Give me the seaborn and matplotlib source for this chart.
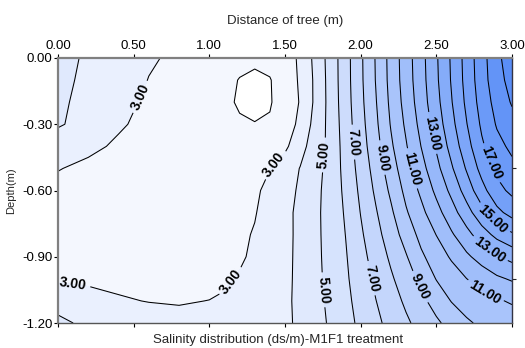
import numpy as np
import matplotlib
matplotlib.use("Agg")
import matplotlib.pyplot as plt
import seaborn as sns
from matplotlib import font_manager

# ---------------- data ----------------
distance = [0.0, 0.2, 0.4, 0.6, 0.8, 1.0, 1.1, 1.2, 1.3, 1.4, 1.5, 1.6, 1.7,
            1.8, 1.9, 2.0, 2.1, 2.2, 2.3, 2.4, 2.5, 2.6, 2.7, 2.8, 2.9, 3.0]
depth = [0.0, -0.1, -0.2, -0.3, -0.4, -0.5, -0.6, -0.7, -0.8, -0.9, -1.0, -1.1, -1.2]

sal_d000 = [4.30, 3.87, 3.48, 3.09, 2.85, 2.55, 2.40, 2.22, 2.15, 2.30, 2.60, 3.14, 4.27, 5.40, 6.61, 7.83, 9.07, 10.35, 11.53, 12.67, 13.88, 15.13, 16.38, 17.63, 18.70, 19.70]
sal_d010 = [4.22, 3.82, 3.41, 2.98, 2.78, 2.45, 2.20, 1.97, 1.85, 1.95, 2.50, 3.11, 4.18, 5.38, 6.60, 7.81, 9.04, 10.32, 11.49, 12.62, 13.83, 15.08, 16.33, 17.57, 18.61, 19.38]
sal_d020 = [4.17, 3.72, 3.27, 2.85, 2.70, 2.40, 2.18, 1.90, 1.85, 1.92, 2.50, 3.05, 4.18, 5.35, 6.56, 7.75, 8.94, 10.22, 11.37, 12.51, 13.69, 14.94, 16.20, 17.40, 18.37, 19.09]
sal_d030 = [4.12, 3.59, 3.08, 2.82, 2.65, 2.40, 2.25, 2.10, 2.02, 2.10, 2.55, 3.20, 4.35, 5.31, 6.49, 7.65, 8.81, 10.07, 11.17, 12.30, 13.45, 14.70, 15.96, 17.16, 18.09, 18.65]
sal_d040 = [3.35, 3.15, 2.90, 2.75, 2.60, 2.45, 2.35, 2.30, 2.30, 2.50, 2.80, 3.67, 4.46, 5.28, 6.41, 7.53, 8.63, 9.84, 10.92, 12.02, 13.11, 14.35, 15.61, 16.84, 17.69, 18.22]
sal_d050 = [3.03, 2.85, 2.70, 2.60, 2.50, 2.45, 2.45, 2.50, 2.70, 2.98, 3.51, 4.03, 4.64, 5.36, 6.31, 7.37, 8.40, 9.54, 10.61, 11.65, 12.70, 13.87, 15.10, 16.34, 17.22, 17.74]
sal_d060 = [2.80, 2.70, 2.60, 2.50, 2.45, 2.50, 2.55, 2.65, 2.85, 3.24, 3.67, 4.13, 4.73, 5.41, 6.20, 7.20, 8.17, 9.19, 10.27, 11.20, 12.22, 13.25, 14.44, 15.65, 16.69, 17.22]
sal_d070 = [2.70, 2.60, 2.50, 2.45, 2.45, 2.55, 2.65, 2.75, 2.95, 3.34, 3.75, 4.22, 4.78, 5.40, 6.10, 7.03, 7.91, 8.83, 9.89, 10.74, 11.65, 12.58, 13.60, 14.67, 15.72, 16.37]
sal_d080 = [2.70, 2.60, 2.50, 2.45, 2.50, 2.60, 2.70, 2.85, 3.06, 3.41, 3.77, 4.20, 4.77, 5.38, 6.01, 6.85, 7.67, 8.50, 9.41, 10.30, 11.02, 11.87, 12.67, 13.53, 14.28, 14.85]
sal_d090 = [2.75, 2.68, 2.60, 2.55, 2.55, 2.65, 2.75, 2.88, 3.16, 3.48, 3.79, 4.20, 4.76, 5.34, 5.92, 6.67, 7.42, 8.17, 8.92, 9.83, 10.50, 11.12, 11.82, 12.40, 12.93, 13.31]
sal_d100 = [2.95, 2.90, 2.85, 2.78, 2.75, 2.80, 2.90, 3.08, 3.33, 3.58, 3.83, 4.18, 4.74, 5.29, 5.85, 6.50, 7.19, 7.86, 8.53, 9.25, 10.04, 10.51, 10.99, 11.41, 11.83, 12.11]
sal_d110 = [3.30, 3.20, 3.06, 2.98, 2.95, 3.01, 3.08, 3.30, 3.50, 3.68, 3.87, 4.16, 4.68, 5.22, 5.76, 6.35, 6.98, 7.58, 8.17, 8.75, 9.40, 10.04, 10.33, 10.61, 10.90, 11.10]
sal_d120 = [4.40, 3.60, 3.45, 3.30, 3.20, 3.30, 3.40, 3.50, 3.60, 3.72, 3.86, 4.14, 4.63, 5.13, 5.66, 6.21, 6.77, 7.32, 7.84, 8.34, 8.83, 9.35, 9.89, 10.14, 10.32, 10.50]

line_levels = [2, 3, 4, 5, 6, 7, 8, 9, 10, 11, 12, 13, 14, 15, 16, 17, 18, 19]
label_levels = [3, 5, 7, 9, 11, 13, 15, 17]
x_ticks = [0.0, 0.5, 1.0, 1.5, 2.0, 2.5, 3.0]
x_ticklabels = ["0.00", "0.50", "1.00", "1.50", "2.00", "2.50", "3.00"]
y_ticks = [0.0, -0.3, -0.6, -0.9, -1.2]
y_ticklabels = ["0.00", "-0.30", "-0.60", "-0.90", "-1.20"]
right_ticks = [-0.5, -1.0]

# where the contour labels sit (layout only)
label_spots = [(0.54, -0.175), (1.41, -0.47), (1.16, -1.02), (0.10, -1.02),
               (1.77, -0.44), (1.75, -1.05), (1.97, -0.38), (2.05, -1.00),
               (2.15, -0.45), (2.38, -1.04), (2.34, -0.50), (2.83, -1.05),
               (2.47, -0.34), (2.84, -0.88), (2.86, -0.74), (2.81, -0.49)]

# ---------------- style ----------------
sns.set_theme(style="ticks")
names = {f.name for f in font_manager.fontManager.ttflist}
fam = [n for n in ["Liberation Sans Narrow", "Liberation Sans", "DejaVu Sans"] if n in names]
plt.rcParams["font.family"] = fam

fig = plt.figure(figsize=(5.25, 3.48), dpi=100)
ax = fig.add_axes([58 / 525, 1 - 323 / 348, (512 - 58) / 525, (323 - 58) / 348])

X, Y = np.meshgrid(distance, depth)
Z = np.array([sal_d000, sal_d010, sal_d020, sal_d030, sal_d040, sal_d050, sal_d060,
              sal_d070, sal_d080, sal_d090, sal_d100, sal_d110, sal_d120])

fill_levels = [0] + line_levels + [21]
light = np.array([0xf4, 0xf7, 0xfe]) / 255
dark = np.array([0x5a, 0x8e, 0xf7]) / 255
band_colors = ["#ffffff"]
nb = len(fill_levels) - 2
for i in range(nb):
    t = (i / (nb - 1)) ** 0.95
    band_colors.append(tuple(light + (dark - light) * t))

ax.contourf(X, Y, Z, levels=fill_levels, colors=band_colors)
plain_levels = [v for v in line_levels if v not in label_levels]
ax.contour(X, Y, Z, levels=plain_levels, colors="black", linewidths=0.75)
cl = ax.contour(X, Y, Z, levels=label_levels, colors="black", linewidths=0.75)
cl.clabel(fmt="%.2f", fontsize=10, inline=True, inline_spacing=4,
          manual=label_spots)
for t in cl.labelTexts:
    t.set_fontweight("bold")
    t.set_family(["Liberation Sans", "DejaVu Sans"])

ax.set_xlim(0, 3)
ax.set_ylim(-1.2, 0)
ax.set_xticks(x_ticks)
ax.set_xticklabels(x_ticklabels)
ax.set_yticks(y_ticks)
ax.set_yticklabels(y_ticklabels)
ax.tick_params(axis="x", top=True, labeltop=True, bottom=True, labelbottom=False,
               direction="out", length=3, width=0.8, labelsize=9.5, pad=1, colors="black")
ax.tick_params(axis="y", left=True, direction="out", length=3, width=0.8,
               labelsize=9.5, pad=1, colors="black")
ax.xaxis.set_label_position("top")
ax.set_xlabel("Distance of tree (m)", fontsize=9.5, labelpad=12)
ax.set_ylabel("Depth(m)", fontsize=8, labelpad=4)

sec = ax.secondary_yaxis("right")
sec.set_yticks(right_ticks)
sec.set_yticklabels([])
sec.tick_params(direction="out", length=3, width=0.8)

for side in ["top", "left"]:
    ax.spines[side].set_color("#808080")
    ax.spines[side].set_linewidth(1.6)
ax.spines["bottom"].set_color("#555555")
ax.spines["bottom"].set_linewidth(1.0)
ax.spines["right"].set_color("#333344")
ax.spines["right"].set_linewidth(1.0)
sec.spines["right"].set_color("#333344")

fig.text(0.53, 0.006, "Salinity distribution (ds/m)-M1F1 treatment", fontsize=9.5,
         ha="center", va="bottom")

fig.savefig("out.png", dpi=100)
